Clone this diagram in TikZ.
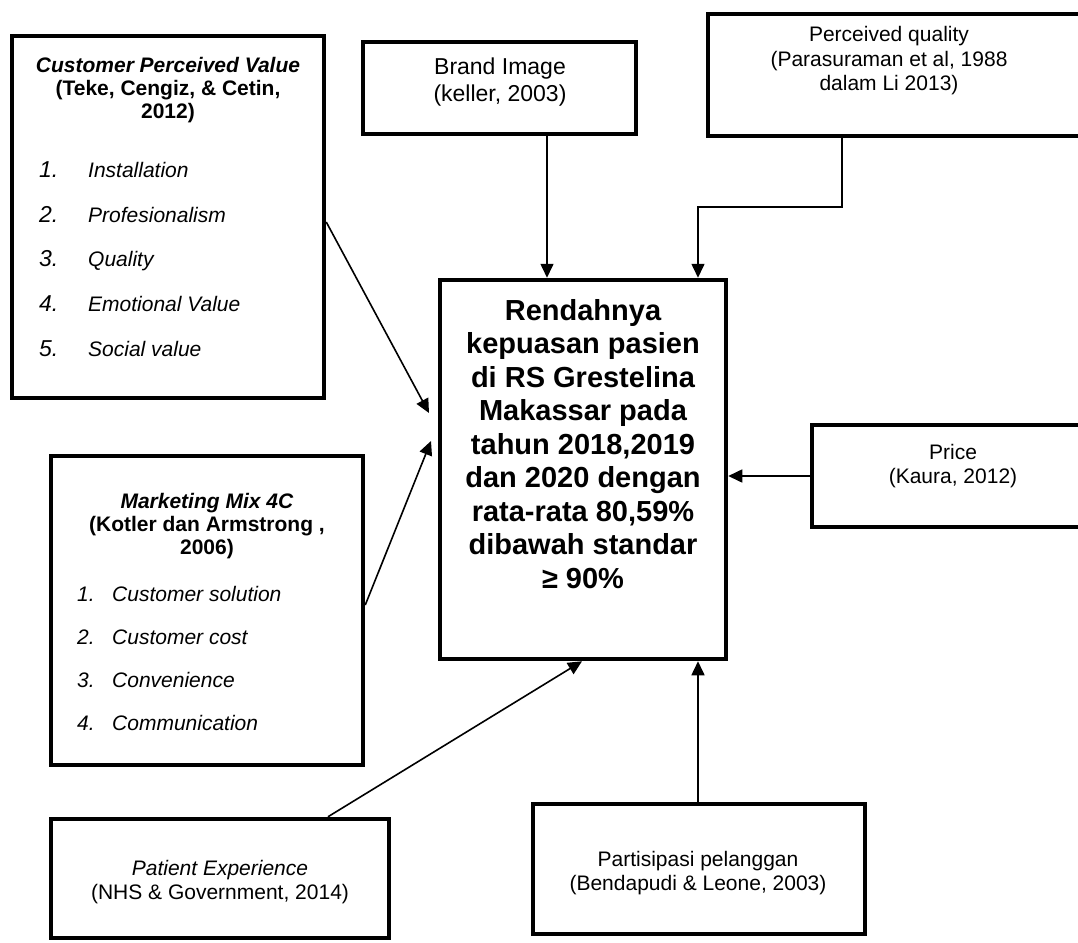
\documentclass[tikz,border=0pt]{standalone}
\usepackage{fontspec}
\setmainfont{Liberation Sans}
\usetikzlibrary{arrows.meta}
\begin{document}
\begin{tikzpicture}[x=1pt,y=-1pt,
  box/.style={draw, line width=4.5pt, rectangle, inner sep=0pt},
  conn/.style={line width=1.6pt, -{Triangle[length=14pt,width=13pt]}},
  txt/.style={font=\fontsize{21}{24.5}\selectfont, align=center, inner sep=0pt},
  bigtxt/.style={font=\fontsize{23}{27}\selectfont, align=center, inner sep=0pt},
  ttl/.style={font=\fontsize{21}{23}\selectfont\bfseries, align=center, inner sep=0pt},
  itm/.style={font=\fontsize{21}{24}\selectfont\itshape, inner sep=0pt, anchor=base west},
  bignum/.style={font=\fontsize{23}{26}\selectfont\itshape, inner sep=0pt, anchor=base west},
  mainttl/.style={font=\fontsize{29}{33.5}\selectfont\bfseries, align=center, inner sep=0pt}]
\useasboundingbox (0,0) rectangle (1078,942);
\clip (0,0) rectangle (1078,942);
\fill[white] (0,0) rectangle (1078,942);

% boxes
\node[box, minimum width=312pt, minimum height=362pt] (cpv) at (168,217) {};
\node[box, minimum width=273pt, minimum height=92pt] (brand) at (499.5,88) {};
\node[box, minimum width=382pt, minimum height=122pt] (pq) at (899,75) {};
\node[box, minimum width=286pt, minimum height=379pt] (central) at (583,469.5) {};
\node[box, minimum width=278pt, minimum height=102pt] (price) at (951,476) {};
\node[box, minimum width=312pt, minimum height=309pt] (mm) at (207,610.5) {};
\node[box, minimum width=338pt, minimum height=119pt] (patient) at (220,878.5) {};
\node[box, minimum width=332pt, minimum height=130pt] (part) at (699,869) {};

% texts
\node[ttl] (cpvt) at (168,90) {\textit{Customer Perceived Value}\\(Teke, Cengiz, \& Cetin,\\2012)};
\node[bignum] (n1) at (39,177.5) {1.};
\node[itm] (i1) at (88,177.5) {Installation};
\node[bignum] (n2) at (39,222.5) {2.};
\node[itm] (i2) at (88,222.5) {Profesionalism};
\node[bignum] (n3) at (39,266.5) {3.};
\node[itm] (i3) at (88,266.5) {Quality};
\node[bignum] (n4) at (39,311.5) {4.};
\node[itm] (i4) at (88,311.5) {Emotional Value};
\node[bignum] (n5) at (39,356.5) {5.};
\node[itm] (i5) at (88,356.5) {Social value};

\node[bigtxt] (brandt) at (500,82) {Brand Image\\(keller, 2003)};
\node[txt] (pqt) at (889,61) {Perceived quality\\(Parasuraman et al, 1988\\dalam Li 2013)};
\node[txt] (pricet) at (953,466) {Price\\(Kaura, 2012)};

\node[mainttl] (maint) at (583,444) {Rendahnya\\kepuasan pasien\\di RS Grestelina\\Makassar pada\\tahun 2018,2019\\dan 2020 dengan\\rata-rata 80,59\%\\dibawah standar\\≥ 90\%};

\node[ttl] (mmt) at (207,526) {\textit{Marketing Mix 4C}\\(Kotler dan Armstrong ,\\2006)};
\node[itm] (m1n) at (77,601.5) {1.};
\node[itm] (m1) at (112,601.5) {Customer solution};
\node[itm] (m2n) at (77,644.5) {2.};
\node[itm] (m2) at (112,644.5) {Customer cost};
\node[itm] (m3n) at (77,687.5) {3.};
\node[itm] (m3) at (112,687.5) {Convenience};
\node[itm] (m4n) at (77,730.5) {4.};
\node[itm] (m4) at (112,730.5) {Communication};

\node[txt] (patt) at (220,882) {\textit{Patient Experience}\\(NHS \& Government, 2014)};
\node[txt] (partt) at (698,873) {Partisipasi pelanggan\\(Bendapudi \& Leone, 2003)};

% connectors
\coordinate (bx) at (547,0);
\draw[conn] (brand.south -| bx) -- (central.north -| bx);

\coordinate (pqa) at (842,207);
\coordinate (pqb) at (698,207);
\draw[conn] (pq.south -| pqa) -- (pqa) -- (pqb) -- (central.north -| pqb);

\coordinate (cpvtip) at (429,413);
\draw[conn] ([yshift=-5pt]cpv.east) -- (cpvtip);

\coordinate (mmtip) at (431,441);
\draw[conn] ([yshift=5.5pt]mm.east) -- (mmtip);

\draw[conn] (price.west) -- (central.east |- price.west);

\draw[conn] ([xshift=108pt]patient.north) -- ([xshift=-1pt]central.south);

\coordinate (px) at (698,0);
\draw[conn] (part.north -| px) -- (central.south -| px);
\end{tikzpicture}
\end{document}
